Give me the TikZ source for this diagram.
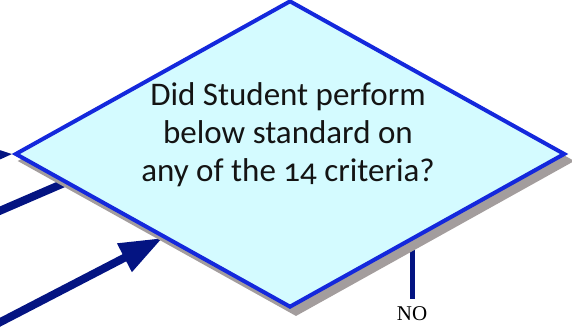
\documentclass[tikz,border=0pt]{standalone}
\usepackage{fontspec}
\setmainfont{Carlito}[Numbers=OldStyle]
\newfontfamily\answerfont{Liberation Serif}
\usetikzlibrary{arrows.meta,calc,backgrounds,shapes.geometric}
\definecolor{flownavy}{RGB}{4,20,130}
\definecolor{edgeblue}{RGB}{20,40,220}
\definecolor{boxcyan}{RGB}{212,251,255}
\definecolor{backgray}{RGB}{163,157,157}
\definecolor{textblack}{RGB}{20,20,20}

\begin{document}
\begin{tikzpicture}[x=1pt, y=-1pt,
	decision/.style={diamond, draw=edgeblue, fill=boxcyan, line width=4pt, minimum width=550pt, minimum height=307pt, inner sep=0pt},
	backdrop/.style={decision, draw=backgray, fill=backgray},
	flow/.style={-{Triangle[length=43pt, width=30pt]}, line width=8pt, flownavy},
	question/.style={align=center, font=\fontsize{33}{38}\selectfont, text=textblack, inner sep=0pt},
	answer/.style={font=\answerfont\fontsize{21}{24}\selectfont, inner sep=8pt}]
	\useasboundingbox (0,0) rectangle (572,328);
	\node[decision] (Q) at (290,154) {};
	\node[question] (T) at (288,135) {Did Student perform\\below standard on\\any of the 14 criteria?};
	\node[answer] (NO) at (412,314) {NO};
	% loose ends of the incoming arrows
	\coordinate (A1) at (-60,158);
	\coordinate (A2) at (-40,228);
	\coordinate (H2) at (150,146);
	\coordinate (A3) at (-40,343);
	\begin{scope}[on background layer]
		\draw[flow] (A1) -- (Q.west);
		\draw[flow] (A2) -- (H2);
		\draw[flow] (A3) -- ($(Q.west)!0.54!(Q.south)$);
		\draw[line width=5pt, flownavy] (NO) -- (NO |- Q.center);
		\node[backdrop] (S) at ($(Q)+(6,7)$) {};
	\end{scope}
\end{tikzpicture}
\end{document}
